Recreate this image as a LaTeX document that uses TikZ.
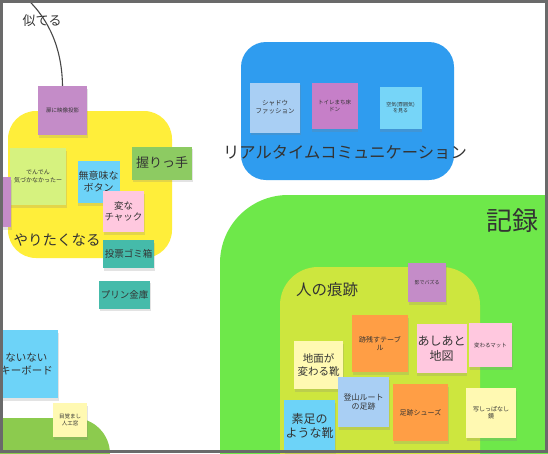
\documentclass[tikz,border=0pt]{standalone}
\usepackage{fontspec}
\setmainfont{Noto Sans CJK JP}
\usetikzlibrary{shadows}
\definecolor{txt}{HTML}{333333}
\definecolor{cYellowR}{HTML}{FFEE3A}
\definecolor{cBlueR}{HTML}{2F9CEF}
\definecolor{cGreenR}{HTML}{6EE84A}
\definecolor{cLimeR}{HTML}{CDE63E}
\definecolor{cGreenB}{HTML}{8CCB4E}
\definecolor{cPurple}{HTML}{C48CC8}
\definecolor{cPurple2}{HTML}{C67FC8}
\definecolor{cLime}{HTML}{D6F27F}
\definecolor{cSky}{HTML}{6DD3F8}
\definecolor{cSky2}{HTML}{76D5F8}
\definecolor{cPink}{HTML}{FFC8DF}
\definecolor{cGreenN}{HTML}{8DCB62}
\definecolor{cTeal}{HTML}{45BBAA}
\definecolor{cPale}{HTML}{A9CFF4}
\definecolor{cOrange}{HTML}{FF9E45}
\definecolor{cCream}{HTML}{FFF9B2}
\definecolor{frameGray}{HTML}{6A6A6A}
\tikzset{
  note/.style={rectangle, inner sep=1pt, align=center, text=txt,
    drop shadow={opacity=0.22, shadow xshift=0.5pt, shadow yshift=-2.5pt}},
  region/.style={rounded corners=#1},
  lbl/.style={text=txt, inner sep=0pt}
}
\newcommand\fsz[1]{\fontsize{#1}{1.2\dimexpr#1pt\relax}\selectfont}
\begin{document}
\begin{tikzpicture}[x=1pt,y=-1pt]
\useasboundingbox (0,0) rectangle (548,453);
\fill[white] (0,0) rectangle (548,453);
\begin{scope}
\clip (0,0) rectangle (548,453);
% regions
\fill[cYellowR, region=28] (8,111) rectangle (172,258);
\fill[cBlueR, region=25] (241,42) rectangle (454,180);
\fill[cGreenR, region=68] (220,195) rectangle (640,560);
\fill[cLimeR, region=38] (280,267) rectangle (480,520);
\fill[cGreenB, region=36] (-60,418) rectangle (110,520);

% connector
\coordinate (top) at (26,-2);
\node[lbl, font=\fsz{13}] (sim) at (42,21) {似てる};

% yellow area notes
\node[note, fill=cPurple, minimum width=49, minimum height=49, font=\fsz{5.5}] (n1) at (62.5,110.5) {扉に映像投影};
\draw[txt!90, line width=1.1pt] (top) .. controls (50,20) and (62,50) .. (n1.north);
\node[note, fill=cLime, minimum width=56, minimum height=57, font=\fsz{6}] (n2) at (38,176.5) {でんでん\\気づかなかったー};
\node[note, fill=cPurple, minimum width=16, minimum height=50] (n3) at (3,202) {};
\node[note, fill=cSky, minimum width=41, minimum height=42, font=\fsz{10}] (n4) at (98.5,182) {無意味な\\ボタン};
\node[note, fill=cPink, minimum width=41, minimum height=41, font=\fsz{9.5}] (n5) at (123.5,211.5) {変な\\チャック};
\node[note, fill=cGreenN, minimum width=60, minimum height=33, font=\fsz{13}] (n6) at (162,163) {握りっ手};
\node[note, fill=cTeal, minimum width=51, minimum height=28, font=\fsz{9.5}] (n7) at (128.5,254) {投票ゴミ箱};
\node[note, fill=cTeal, minimum width=51, minimum height=28, font=\fsz{9.5}] (n8) at (124.5,294.5) {プリン金庫};
\node[lbl, font=\fsz{14.5}] (yari) at (57,240) {やりたくなる};

% blue area
\node[note, fill=cPale, minimum width=50, minimum height=50, font=\fsz{6.5}] (n9) at (275,107.5) {シャドウ\\ファッション};
\node[note, fill=cPurple2, minimum width=46, minimum height=46, font=\fsz{5.5}] (n10) at (334.5,106) {トイレまち床\\ドン};
\node[note, fill=cSky2, minimum width=42, minimum height=42, font=\fsz{5}] (n11) at (400.5,108) {空気(雰囲気)\\を見る};
\node[lbl, font=\fsz{16.3}] (rt) at (345,152) {リアルタイムコミュニケーション};

% green area
\node[lbl, font=\fsz{26}] (kiroku) at (512,221) {記録};
\node[lbl, font=\fsz{15.5}] (kon) at (327,290) {人の痕跡};
\node[note, fill=cPurple, minimum width=38, minimum height=39, font=\fsz{5}] (n12) at (427,282.5) {影でバズる};
\node[note, fill=cOrange, minimum width=56, minimum height=57, font=\fsz{7}] (n13) at (380,343.5) {跡残すテーブ\\ル};
\node[note, fill=cPink, minimum width=49, minimum height=49, font=\fsz{12}] (n14) at (441.5,348.5) {あしあと\\地図};
\node[note, fill=cPink, minimum width=43, minimum height=44, font=\fsz{5.5}] (n15) at (490.5,345) {変わるマット};
\node[note, fill=cCream, minimum width=49, minimum height=48, font=\fsz{10.5}] (n16) at (318.5,365) {地面が\\変わる靴};
\node[note, fill=cPale, minimum width=51, minimum height=50, font=\fsz{8}] (n17) at (363.5,402) {登山ルート\\の足跡};
\node[note, fill=cOrange, minimum width=55, minimum height=57, font=\fsz{7}] (n18) at (420.5,412.5) {足跡シューズ};
\node[note, fill=cCream, minimum width=50, minimum height=50, font=\fsz{6}] (n19) at (491,413) {写しっぱなし\\鏡};
\node[note, fill=cSky, minimum width=51, minimum height=52, font=\fsz{12}] (n20) at (309.5,426) {素足の\\ような靴};

% bottom left
\node[note, fill=cSky, minimum width=63, minimum height=68, font=\fsz{10.5}] (n21) at (26.5,364) {ないない\\キーボード};
\node[note, fill=cCream, minimum width=34, minimum height=34, font=\fsz{5.5}] (n22) at (70,420) {目覚まし\\人工窓};
\end{scope}
% frame
\draw[frameGray, line width=3pt] (1.5,1.5) rectangle (546.5,451.5);
\end{tikzpicture}
\end{document}
